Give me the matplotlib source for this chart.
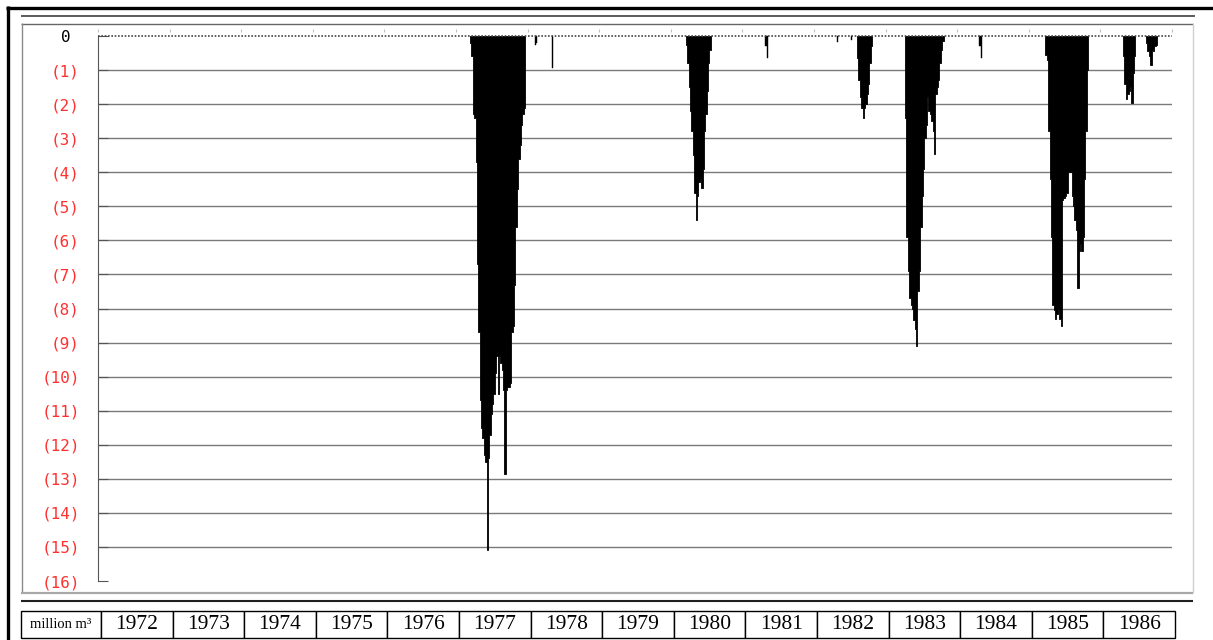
import matplotlib
matplotlib.use("Agg")
import matplotlib.pyplot as plt
from matplotlib.lines import Line2D
import numpy as np

# weekly drawdown values (million m3) per episode
step = 1 / 52
start_1977 = 1977.196
drop_1977 = [0.2, 0.6, 2.3, 2.4, 3.7, 6.7, 8.7, 10.7, 11.5, 11.8, 12.3, 12.5,
             15.1, 12.4, 11.7, 11.1, 10.8, 10.5, 9.9, 9.4, 10.5, 9.4, 9.6, 9.8,
             10.4, 12.85, 10.4, 10.3, 10.3, 10.2, 8.7, 8.5, 7.3, 5.6, 4.5, 3.6,
             3.2, 2.6, 2.3, 2.1]
start_1980 = 1980.212
drop_1980 = [0.25, 0.8, 1.5, 2.2, 2.8, 3.5, 4.6, 5.4, 4.7, 4.3, 4.2, 4.45,
             3.9, 2.8, 2.3, 1.6, 0.8, 0.4]
start_1982 = 1982.601
drop_1982 = [0.65, 1.3, 1.8, 2.1, 2.4, 2.1, 2.0, 1.7, 1.4, 0.8, 0.3]
start_1983 = 1983.271
drop_1983 = [2.4, 5.9, 6.9, 7.7, 7.9, 8.0, 8.35, 8.6, 9.1, 7.5, 6.9, 5.6,
             4.7, 3.9, 3.0, 2.6, 1.8, 2.2, 2.3, 2.5, 2.8, 3.45, 1.7, 1.5,
             1.3, 0.8, 0.4, 0.15]
start_1985 = 1985.233
drop_1985 = [0.55, 0.7, 2.8, 4.2, 5.9, 7.9, 8.05, 8.3, 8.15, 8.0, 8.3, 8.5,
             4.8, 4.75, 4.7, 4.6, 4.0, 4.0, 4.0, 4.7, 5.0, 5.4, 5.7, 7.4,
             6.3, 6.1, 6.3, 5.9, 4.2, 2.8, 1.0]
start_1986a = 1986.316
drop_1986a = [0.6, 1.4, 1.85, 1.7, 1.6, 1.5, 1.97, 1.1, 0.6]
start_1986b = 1986.637
drop_1986b = [0.2, 0.45, 0.6, 0.85, 0.4, 0.45, 0.3, 0.25]

# isolated small draws
spike_dates = [1978.10, 1978.12, 1978.34, 1981.32, 1981.34, 1982.32, 1982.51,
               1984.31, 1984.33]
spike_values = [0.25, 0.2, 0.95, 0.3, 0.65, 0.17, 0.12, 0.3, 0.65]

years = list(range(1972, 1987))
y_levels = list(range(0, -17, -1))
y_labels = ["0 "] + ["(%d)" % i for i in range(1, 17)]

W, H = 1213, 640
fig = plt.figure(figsize=(W / 100, H / 100), dpi=100)
fig.patch.set_facecolor("white")


def fx(x):
    return x / W


def fy(y):
    return 1 - y / H


def frame_line(x0, y0, x1, y1, color, lw):
    fig.add_artist(Line2D([fx(x0), fx(x1)], [fy(y0), fy(y1)],
                          transform=fig.transFigure, color=color, lw=lw,
                          solid_capstyle="butt"))


# outer page frame
frame_line(7.5, 6, 7.5, 640, "black", 2.4)
frame_line(6, 7.5, 1213, 7.5, "black", 2.4)
frame_line(21, 15.5, 1195, 15.5, "#404040", 1.2)
# chart box
frame_line(21, 23.5, 1193, 23.5, "#666666", 1.0)
frame_line(21.5, 23, 21.5, 593, "#8a8a8a", 1.0)
frame_line(1193, 23, 1193, 593, "#d0d0d0", 1.0)
frame_line(21, 593, 1193, 593, "#a8a8a8", 1.6)
frame_line(21, 601, 1193, 601, "#202020", 1.5)

ax = fig.add_axes([fx(98), fy(581), fx(1172) - fx(98), (581 - 29.2) / H])
ax.set_xlim(1972, 1987)
ax.set_ylim(-16, 0.2)

ax.hlines(y_levels[1:-1], 1972, 1987, color="#7a7a7a", lw=1.0, zorder=1)

episodes = [(start_1977, drop_1977), (start_1980, drop_1980),
            (start_1982, drop_1982), (start_1983, drop_1983),
            (start_1985, drop_1985), (start_1986a, drop_1986a),
            (start_1986b, drop_1986b)]
for start, vals in episodes:
    # weekly bars drawn as one stepped area so no seams appear between them
    x = start + step * np.arange(len(vals) + 1)
    y = -np.array(vals + vals[-1:])
    ax.fill_between(x, 0, y, step="post", color="black", lw=0.6,
                    edgecolor="black", zorder=3)
ax.bar(spike_dates, -np.array(spike_values), width=step * 0.9, align="edge",
       color="black", edgecolor="black", lw=0.3, zorder=3)

ax.axhline(0, color="#444444", lw=1.2, ls=(0, (1, 1)), zorder=4)

for s in ["top", "right", "bottom"]:
    ax.spines[s].set_visible(False)
ax.spines["left"].set_bounds(-16, 0)
ax.spines["left"].set_color("#555555")

ax.set_xticks(list(range(1972, 1988)))
ax.tick_params(axis="x", top=True, bottom=False, labeltop=False,
               labelbottom=False, direction="in", length=2, color="#c0c0c0")
ax.set_yticks(y_levels)
ax.set_yticklabels(y_labels, family="DejaVu Sans Mono", fontsize=11.5)
ax.tick_params(axis="y", direction="in", length=7, color="#555555", pad=13)
for i, lab in enumerate(ax.get_yticklabels()):
    lab.set_color("black" if i == 0 else "#ff3030")

# year table under the chart
tax = fig.add_axes([fx(21), fy(638), fx(1175) - fx(21), (638 - 611) / H])
tax.axis("off")
cells = ["million m\u00b3"] + [str(y) for y in years]
widths = [80] + [71.6] * len(years)
tbl = tax.table(cellText=[cells], colWidths=widths, bbox=[0, 0, 1, 1],
                cellLoc="center")
tbl.auto_set_font_size(False)
for (r, c), cell in tbl.get_celld().items():
    cell.set_edgecolor("black")
    cell.set_linewidth(1.0)
    txt = cell.get_text()
    txt.set_family("Liberation Serif")
    txt.set_fontsize(10.5 if c == 0 else 15.5)

fig.savefig("out.png", dpi=100)
